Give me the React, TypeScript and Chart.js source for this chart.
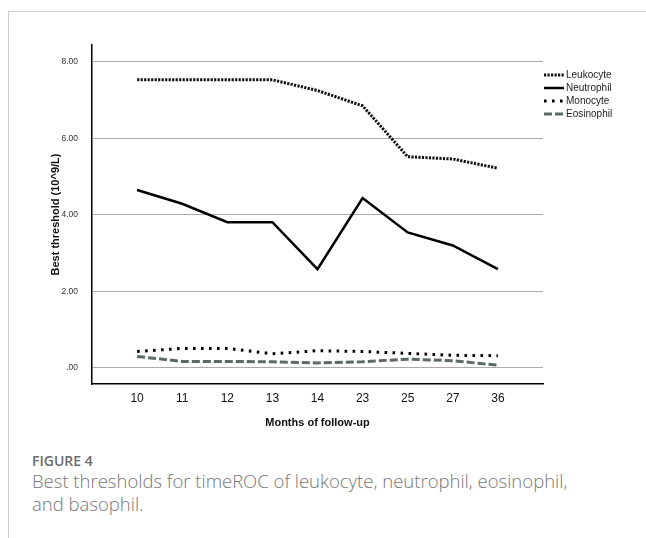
import React, { useEffect, useRef } from "react";
import { Chart, registerables } from "chart.js";

Chart.register(...registerables);

const months = ["10", "11", "12", "13", "14", "23", "25", "27", "36"];
const leukocyte = [7.53, 7.53, 7.53, 7.53, 7.25, 6.85, 5.52, 5.46, 5.22];
const neutrophil = [4.65, 4.29, 3.81, 3.81, 2.58, 4.44, 3.54, 3.2, 2.58];
const monocyte = [0.43, 0.51, 0.51, 0.37, 0.45, 0.43, 0.38, 0.33, 0.32];
const eosinophil = [0.3, 0.17, 0.17, 0.16, 0.13, 0.16, 0.23, 0.19, 0.07];
const yTicks = [0, 2, 4, 6, 8];
const yTickLabels = [".00", "2.00", "4.00", "6.00", "8.00"];

const FONT = "'Liberation Sans', Arial, Helvetica, sans-serif";

const toPoints = (arr: number[]) => arr.map((v, i) => ({ x: i + 1, y: v }));

const legendPlugin = {
  id: "customLegend",
  afterDraw(chart: any) {
    const { ctx, chartArea } = chart;
    const x0 = chartArea.right + 1;
    const sampleW = 20;
    ctx.save();
    chart.data.datasets.forEach((ds: any, i: number) => {
      const y = chartArea.top + 30 + i * 13;
      ctx.beginPath();
      ctx.setLineDash(ds.borderDash || []);
      ctx.lineWidth = ds.borderWidth;
      ctx.strokeStyle = ds.borderColor;
      ctx.moveTo(x0, y);
      ctx.lineTo(x0 + sampleW, y);
      ctx.stroke();
      ctx.setLineDash([]);
      ctx.fillStyle = "#222";
      ctx.font = `10px ${FONT}`;
      ctx.textBaseline = "middle";
      ctx.textAlign = "left";
      ctx.fillText(ds.label, x0 + sampleW + 2, y + 0.5);
    });
    ctx.restore();
  },
};

export default function App() {
  const ref = useRef<HTMLCanvasElement | null>(null);

  useEffect(() => {
    if (!ref.current) return;
    const chart = new Chart(ref.current, {
      type: "line",
      data: {
        datasets: [
          {
            label: "Leukocyte",
            data: toPoints(leukocyte),
            borderColor: "#111",
            borderWidth: 3,
            borderDash: [2.2, 1.3],
          },
          {
            label: "Neutrophil",
            data: toPoints(neutrophil),
            borderColor: "#000",
            borderWidth: 2.5,
            borderDash: [],
          },
          {
            label: "Monocyte",
            data: toPoints(monocyte),
            borderColor: "#000",
            borderWidth: 3,
            borderDash: [2.6, 5.4],
          },
          {
            label: "Eosinophil",
            data: toPoints(eosinophil),
            borderColor: "#5c6964",
            borderWidth: 3,
            borderDash: [8, 3],
          },
        ],
      },
      options: {
        animation: false,
        responsive: false,
        maintainAspectRatio: false,
        layout: { padding: { top: 33, right: 103, left: 0, bottom: 0 } },
        elements: {
          point: { radius: 0 },
          line: { tension: 0, borderCapStyle: "butt", borderJoinStyle: "miter" },
        },
        plugins: {
          legend: { display: false },
          tooltip: { enabled: false },
        },
        scales: {
          x: {
            type: "linear",
            min: 0,
            max: 10,
            afterBuildTicks: (scale: any) => {
              scale.ticks = months.map((_, i) => ({ value: i + 1 }));
            },
            afterFit: (scale: any) => {
              scale.height = 53;
            },
            grid: { display: false, drawTicks: false },
            border: { display: true, color: "#000", width: 1.5 },
            ticks: {
              autoSkip: false,
              maxRotation: 0,
              padding: 7,
              color: "#111",
              font: { family: FONT, size: 12 },
              callback: (v: any) => months[Number(v) - 1] ?? "",
            },
            title: {
              display: true,
              text: "Months of follow-up",
              color: "#111",
              font: { family: FONT, size: 11, weight: "bold" },
              padding: { top: 0, bottom: 7 },
            },
          },
          y: {
            type: "linear",
            min: -0.42,
            max: 8.44,
            afterBuildTicks: (scale: any) => {
              scale.ticks = yTicks.map((v) => ({ value: v }));
            },
            afterFit: (scale: any) => {
              scale.width = 83;
            },
            grid: { color: "#aaaaaa", lineWidth: 1, drawTicks: false },
            border: { display: true, color: "#000", width: 1.5 },
            ticks: {
              padding: 14,
              color: "#333",
              font: { family: FONT, size: 8.5 },
              callback: (v: any) => yTickLabels[yTicks.indexOf(Number(v))] ?? "",
            },
            title: {
              display: true,
              text: "Best threshold (10^9/L)",
              color: "#111",
              font: { family: FONT, size: 11, weight: "bold" },
              padding: { top: 40, bottom: 0 },
            },
          },
        },
      },
      plugins: [legendPlugin],
    } as any);
    return () => chart.destroy();
  }, []);

  return (
    <div
      style={{
        position: "absolute",
        left: 0,
        top: 0,
        width: 646,
        height: 538,
        overflow: "hidden",
        background: "#fff",
      }}
    >
      <div
        style={{
          position: "absolute",
          left: 8,
          top: 11,
          width: 700,
          height: 600,
          borderTop: "1px solid #cfcfcf",
          borderLeft: "1px solid #cfcfcf",
        }}
      />
      <canvas
        ref={ref}
        width={637}
        height={425}
        style={{ position: "absolute", left: 9, top: 12, width: 637, height: 425 }}
      />
      <div
        style={{
          position: "absolute",
          left: 32,
          top: 451,
          fontFamily: "'Open Sans', sans-serif",
          fontSize: 14,
          lineHeight: "20px",
          color: "#6b6b6b",
          fontWeight: 600,
        }}
      >
        FIGURE 4
      </div>
      <div
        style={{
          position: "absolute",
          left: 32,
          top: 470,
          width: 610,
          fontFamily: "'Open Sans', sans-serif",
          fontSize: 18.5,
          lineHeight: "22.5px",
          color: "#777",
          fontWeight: 300,
          whiteSpace: "nowrap",
        }}
      >
        Best thresholds for timeROC of leukocyte, neutrophil, eosinophil,
        <br />
        and basophil.
      </div>
    </div>
  );
}
